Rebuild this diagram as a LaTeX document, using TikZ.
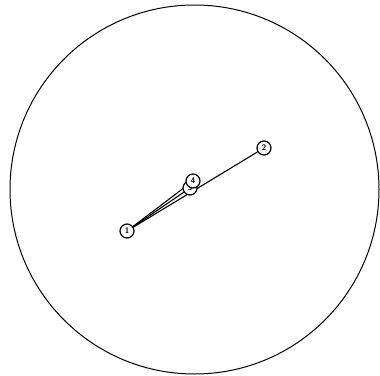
\documentclass[tikz,border=0pt]{standalone}
\usepackage{tikz}
\usetikzlibrary{backgrounds}
\tikzset{
  pt/.style={circle, draw, line width=1.2pt, fill=white, inner sep=0pt, minimum size=14pt, font=\sffamily\bfseries\footnotesize},
  link/.style={line width=1.1pt}
}
\begin{document}
\begin{tikzpicture}[x=1pt, y=-1pt]
    \useasboundingbox (0,0) rectangle (380,375);

    % Outer circle
    \draw[line width=1pt] (194.5,189.5) circle (184.5);

    % Points
    \node[pt] (p3) at (190,188) {3};
    \node[pt] (p4) at (193,181) {4};
    \node[pt] (p1) at (127,231) {1};
    \node[pt] (p2) at (264,148) {2};

    % Connectors
    \begin{scope}[on background layer]
      \draw[link] (p1.center) -- (p2.center);
      \draw[link] (p1.center) -- (p3.center);
      \draw[link] (p1.center) -- (p4.center);
    \end{scope}
\end{tikzpicture}
\end{document}
